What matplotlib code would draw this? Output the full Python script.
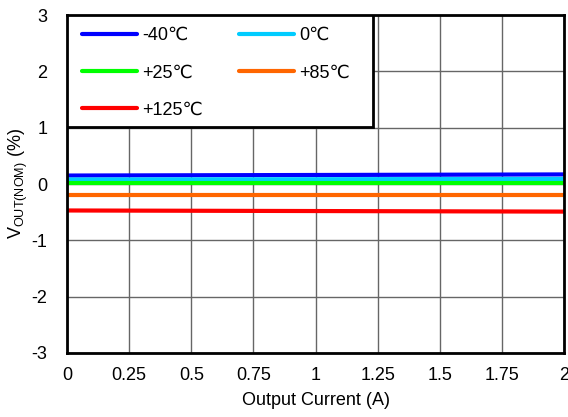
import matplotlib.pyplot as plt
from matplotlib.patches import Rectangle
import numpy as np

plt.rcParams['font.family'] = ['Liberation Sans', 'DejaVu Sans']
plt.rcParams['mathtext.fontset'] = 'custom'
plt.rcParams['mathtext.rm'] = 'Liberation Sans'
plt.rcParams['axes.unicode_minus'] = False

current = [0, 2]
labels = ['-40℃', '0℃', '+25℃', '+85℃', '+125℃']
colors = ['#0000ff', '#00ccff', '#00ff00', '#ff6600', '#ff0000']
vout = [
    [0.15, 0.17],
    [0.08, 0.09],
    [0.02, 0.02],
    [-0.19, -0.19],
    [-0.47, -0.49],
]

fig = plt.figure(figsize=(5.68, 4.17), dpi=100)
ax = fig.add_axes([0.118, 0.1535, 0.875, 0.8105])

lines = []
for lab, c, v in zip(labels, colors, vout):
    ln, = ax.plot(current, v, color=c, lw=3, label=lab, solid_capstyle='round')
    lines.append(ln)

ax.set_xlim(0, 2)
ax.set_ylim(-3, 3)
ax.set_xticks(np.arange(0, 2.01, 0.25))
ax.set_xticklabels(['0', '0.25', '0.5', '0.75', '1', '1.25', '1.5', '1.75', '2'])
ax.set_yticks(range(-3, 4))
ax.grid(True, color='#666666', lw=1)
ax.tick_params(direction='in', length=0, labelsize=13)
ax.tick_params(axis='x', pad=10)
ax.tick_params(axis='y', pad=14)
for s in ax.spines.values():
    s.set_linewidth(2)
ax.set_xlabel('Output Current (A)', fontsize=13, labelpad=6)
ax.set_ylabel(r'V$_{\mathregular{OUT(NOM)}}$ (%)', fontsize=13, labelpad=1)

# legend box
box = Rectangle((0, 0.669), 0.616, 0.331, transform=ax.transAxes,
                facecolor='white', edgecolor='black', lw=2, zorder=4)
ax.add_patch(box)

order = [0, 2, 4, 1, 3]
leg = ax.legend([lines[i] for i in order], [labels[i] for i in order],
                ncol=2, loc='upper left', bbox_to_anchor=(0.03, 0.964),
                borderaxespad=0, borderpad=0, frameon=False,
                fontsize=13, handlelength=3.05, handletextpad=0.28,
                columnspacing=2.0, labelspacing=1.12)
leg.set_zorder(5)

fig.savefig('out.png', dpi=100)
